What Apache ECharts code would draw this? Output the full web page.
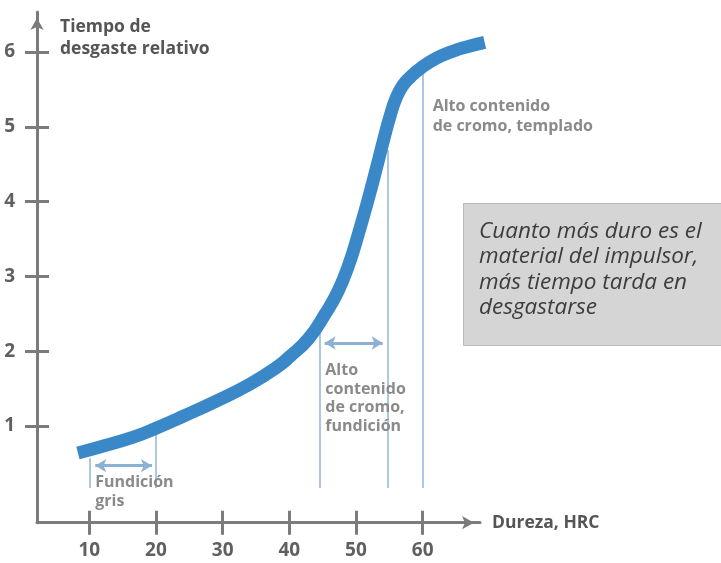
<!DOCTYPE html>
<html><head><meta charset="utf-8">
<script src="https://cdn.jsdelivr.net/npm/echarts@6/dist/echarts.min.js"></script>
<style>html,body{margin:0;padding:0;background:#fff}#c{width:721px;height:563px}</style>
</head><body><div id="c"></div>
<script>
// Curve: hardness (HRC) vs relative wear time
const hrc  = [8.3, 11.6, 16.6, 20, 24.1, 29.2, 34.1, 38.2, 40.1, 42.9, 45.4, 47.3, 48.9, 50.4, 51.8, 53.1, 54.3, 55.1, 56.0, 57.0, 58.2, 59.8, 62.1, 64.5, 67.1, 69.3];
const wear = [0.64, 0.72, 0.85, 0.97, 1.13, 1.34, 1.56, 1.79, 1.93, 2.17, 2.50, 2.80, 3.15, 3.58, 4.02, 4.46, 4.88, 5.14, 5.38, 5.55, 5.67, 5.79, 5.92, 6.01, 6.08, 6.13];

const xTicks = [10, 20, 30, 40, 50, 60];
const yTicks = [1, 2, 3, 4, 5, 6];
const xRange = [2.16, 68.6];
const yRange = [-0.293, 6.535];

// Vertical guide lines: [x, yBottom, yTop]
const guides = [[10, 0.17, 0.57], [20, 0.17, 0.88], [44.6, 0.17, 2.28], [54.8, 0.17, 4.69], [60, 0.17, 5.76]];
// Double arrows: [xStart, xEnd, y]
const spans = [[10.9, 19.4, 0.47], [45.3, 54.0, 2.11], [61.5, 70.2, 5.57]];
// Annotation texts: [text, x, yTop, lineHeight]
const notes = [
  ['Fundición\ngris', 10.9, 0.37, 19],
  ['Alto\ncontenido\nde cromo,\nfundición', 45.4, 1.86, 18.5],
  ['Alto contenido\nde cromo, templado', 61.5, 5.40, 20]
];
const yTitle = 'Tiempo de\ndesgaste relativo';
const xTitle = 'Dureza, HRC';
const boxText = 'Cuanto más duro es el\nmaterial del impulsor,\nmás tiempo tarda en\ndesgastarse';

const FONT = '"Open Sans", "Noto Sans", sans-serif';
const AX = '#7b7b7b';
const chart = echarts.init(document.getElementById('c'), null, {renderer: 'canvas'});

const lineData = hrc.map((x, i) => [x, wear[i]]);
const markData = [];
guides.forEach(g => markData.push([
  {coord: [g[0], g[1]], symbol: 'none', lineStyle: {color: '#8fb5da', width: 1.5, type: 'solid'}},
  {coord: [g[0], g[2]], symbol: 'none'}
]));
spans.forEach(s => markData.push([
  {coord: [s[0], s[2]], symbol: 'arrow', symbolSize: [10, 11], symbolRotate: 90, lineStyle: {color: '#8db1d3', width: 3, type: 'solid'}},
  {coord: [s[1], s[2]], symbol: 'arrow', symbolSize: [10, 11], symbolRotate: -90}
]));

function xAxisDef(main) {
  return {
    type: 'value', min: xRange[0], max: xRange[1], position: 'bottom', gridIndex: 0,
    splitLine: {show: false},
    axisLine: {show: main, onZero: false, symbol: ['none', 'arrow'], symbolSize: [10, 12], symbolOffset: [0, -6], lineStyle: {color: AX, width: 3}},
    axisTick: {show: true, inside: !main, length: 12, customValues: xTicks, lineStyle: {color: AX, width: 3}},
    axisLabel: {show: main, customValues: xTicks, margin: 18, color: '#606060', fontSize: 19, fontWeight: 'bold', fontFamily: FONT},
    name: main ? xTitle : '', nameLocation: 'end', nameGap: 12,
    nameTextStyle: {color: '#555', fontSize: 17.5, fontWeight: 'bold', fontFamily: FONT, padding: [2, 0, 0, 0]}
  };
}
function yAxisDef(main) {
  return {
    type: 'value', min: yRange[0], max: yRange[1], position: 'left', gridIndex: 0,
    splitLine: {show: false},
    axisLine: {show: main, onZero: false, symbol: ['none', 'arrow'], symbolSize: [10, 12], symbolOffset: [0, -6], lineStyle: {color: AX, width: 3}},
    axisTick: {show: true, inside: !main, length: 12, customValues: yTicks, lineStyle: {color: AX, width: 3}},
    axisLabel: {show: main, customValues: yTicks, margin: 22, color: '#606060', fontSize: 19, fontWeight: 'bold', fontFamily: FONT}
  };
}

chart.setOption({
  animation: false,
  grid: {left: 37, right: 241, top: 12, bottom: 40.3, containLabel: false},
  xAxis: [xAxisDef(true), xAxisDef(false)],
  yAxis: [yAxisDef(true), yAxisDef(false)],
  series: [{
    type: 'line', data: lineData, smooth: 0.5, symbol: 'none', clip: false,
    lineStyle: {color: '#3a88c8', width: 13, cap: 'butt', join: 'round'},
    z: 5,
    markLine: {silent: true, animation: false, label: {show: false}, data: markData, z: 3}
  }]
});

const graphics = [];
notes.forEach(n => {
  const p = chart.convertToPixel({gridIndex: 0}, [n[1], n[2]]);
  graphics.push({type: 'text', x: p[0], y: p[1], z: 10, style: {
    text: n[0], fill: '#8a8a8a', font: 'bold 16px ' + FONT, lineHeight: n[3], verticalAlign: 'top', align: 'left'}});
});
const axisTop = chart.convertToPixel({gridIndex: 0}, [xRange[0], yRange[1]]);
graphics.push({type: 'text', x: axisTop[0] + 23, y: axisTop[1] + 4, z: 10, style: {
  text: yTitle, fill: '#555', font: 'bold 17.5px ' + FONT, lineHeight: 22, verticalAlign: 'top', align: 'left'}});
graphics.push({type: 'rect', shape: {x: 463.5, y: 203.5, width: 270, height: 142}, z: 8,
  style: {fill: '#d5d5d5', stroke: '#b9b9b9', lineWidth: 1}});
graphics.push({type: 'text', x: 479, y: 218.5, z: 9, style: {
  text: boxText, fill: '#3c3c3c', font: 'italic 22.5px ' + FONT, lineHeight: 25.5, verticalAlign: 'top', align: 'left'}});
chart.setOption({graphic: graphics});
</script></body></html>
